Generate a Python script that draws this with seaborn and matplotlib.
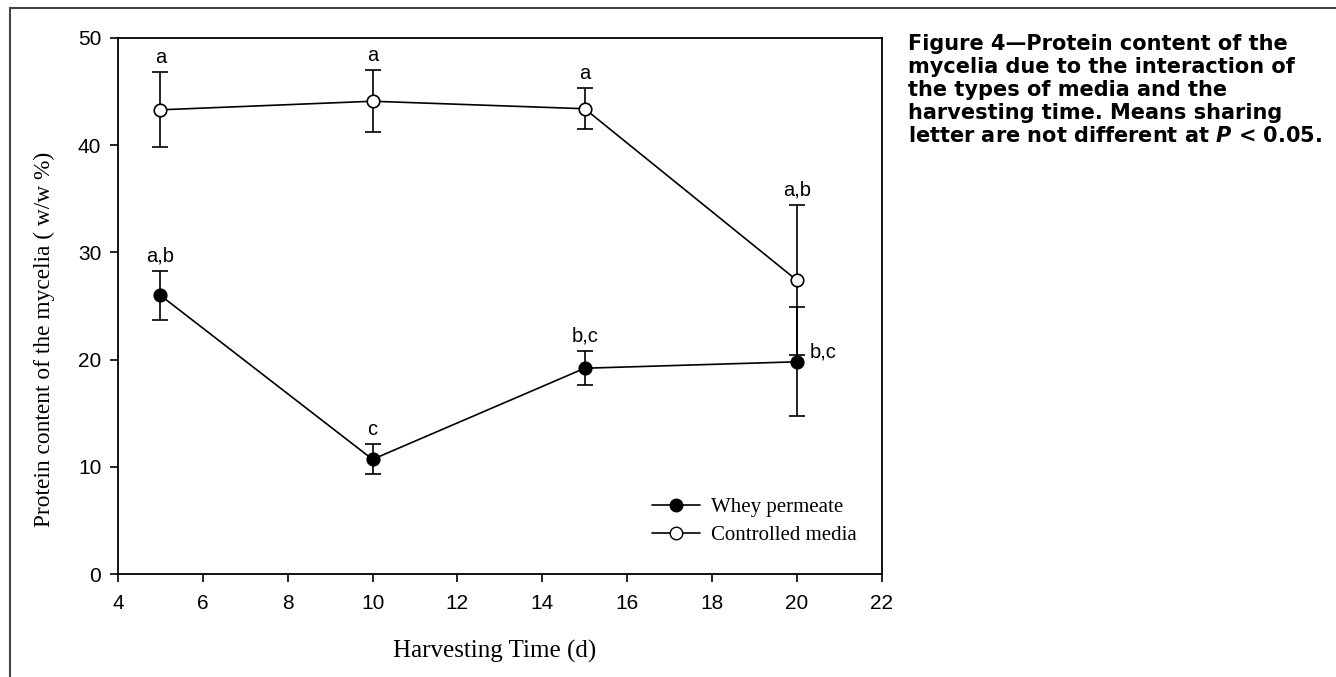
import matplotlib
matplotlib.use("Agg")
import matplotlib.pyplot as plt
from matplotlib.lines import Line2D
import seaborn as sns
import pandas as pd

# Data
days = [5, 10, 15, 20]
whey_mean = [26.0, 10.7, 19.2, 19.8]
whey_err = [2.3, 1.4, 1.6, 5.1]
ctrl_mean = [43.3, 44.1, 43.4, 27.4]
ctrl_err = [3.5, 2.9, 1.9, 7.0]
whey_letters = ["a,b", "c", "b,c", "b,c"]
ctrl_letters = ["a", "a", "a", "a,b"]
series_names = ["Whey permeate", "Controlled media"]
caption = ("Figure 4\u2014Protein content of the\nmycelia due to the interaction of\n"
           "the types of media and the\nharvesting time. Means sharing\n"
           "letter are not different at $\\boldsymbol{P}$ < 0.05.")

sns.set_theme(style="white")
plt.rcParams['font.family'] = ['Liberation Sans', 'DejaVu Sans']
plt.rcParams['mathtext.fontset'] = 'dejavusans'
plt.rcParams['text.color'] = 'black'
plt.rcParams['axes.labelcolor'] = 'black'

fig = plt.figure(figsize=(13.36, 6.77), dpi=100)
ax = fig.add_axes([0.0883, 0.152, 0.660 - 0.0883, 0.9439 - 0.152])

df = pd.DataFrame({
    "day": days * 2,
    "value": whey_mean + ctrl_mean,
    "series": [series_names[0]] * 4 + [series_names[1]] * 4,
})

# error bars
ax.errorbar(days, whey_mean, yerr=whey_err, fmt='none', ecolor='black',
            elinewidth=1.2, capsize=6, capthick=1.2, zorder=2)
ax.errorbar(days, ctrl_mean, yerr=ctrl_err, fmt='none', ecolor='black',
            elinewidth=1.2, capsize=6, capthick=1.2, zorder=2)

sns.lineplot(data=df[df.series == series_names[0]], x="day", y="value", ax=ax,
             color='black', linewidth=1.2, marker='o', markersize=9,
             markerfacecolor='black', markeredgecolor='black', markeredgewidth=1.2,
             zorder=3, legend=False)
sns.lineplot(data=df[df.series == series_names[1]], x="day", y="value", ax=ax,
             color='black', linewidth=1.2, marker='o', markersize=9,
             markerfacecolor='white', markeredgecolor='black', markeredgewidth=1.2,
             zorder=3, legend=False)

# letters
for x, m, e, t in zip(days, ctrl_mean, ctrl_err, ctrl_letters):
    ax.annotate(t, (x, m + e), xytext=(0, 4), textcoords='offset points',
                ha='center', va='bottom', fontsize=14.5, color='black')
for i, (x, m, e, t) in enumerate(zip(days, whey_mean, whey_err, whey_letters)):
    if i == 3:
        ax.annotate(t, (x, m), xytext=(9, 7), textcoords='offset points',
                    ha='left', va='center', fontsize=14.5, color='black')
    else:
        ax.annotate(t, (x, m + e), xytext=(0, 4), textcoords='offset points',
                    ha='center', va='bottom', fontsize=14.5, color='black')

ax.set_xlim(4, 22)
ax.set_ylim(0, 50)
ax.set_xticks(range(4, 23, 2))
ax.set_yticks(range(0, 51, 10))
ax.tick_params(axis='both', which='major', direction='out', length=6, width=1.2,
               labelsize=15, colors='black', bottom=True, left=True)
ax.tick_params(axis='x', pad=8)
ax.tick_params(axis='y', pad=6)
for s in ax.spines.values():
    s.set_color('black')
    s.set_linewidth(1.3)

ax.set_xlabel("Harvesting Time (d)", family=['Liberation Serif'], fontsize=18)
ax.set_ylabel("Protein content of the mycelia ( w/w %)", family=['Liberation Serif'],
              fontsize=16.8)
ax.xaxis.set_label_coords(0.493, -0.122)
ax.yaxis.set_label_coords(-0.083, 0.437)

handles = [
    Line2D([0], [0], color='black', lw=1.2, marker='o', markersize=9,
           markerfacecolor='black', markeredgecolor='black'),
    Line2D([0], [0], color='black', lw=1.2, marker='o', markersize=9,
           markerfacecolor='white', markeredgecolor='black'),
]
leg = ax.legend(handles, series_names, loc='upper left', bbox_to_anchor=(0.699, 0.143),
                frameon=False, prop={'family': 'Liberation Serif', 'size': 15},
                handlelength=2.3, handletextpad=0.55, labelspacing=0.4,
                borderpad=0, borderaxespad=0)
for t in leg.get_texts():
    t.set_color('black')

fig.text(908 / 1336, 1 - 34 / 677, caption, ha='left', va='top', fontsize=15,
         fontweight='bold', family=['DejaVu Sans'], linespacing=1.19, color='black')

# figure frame (top & left)
fig.add_artist(Line2D([10 / 1336, 1.0], [1 - 8 / 677, 1 - 8 / 677], color='#444444', lw=1.5,
                      transform=fig.transFigure))
fig.add_artist(Line2D([10 / 1336, 10 / 1336], [0, 1 - 8 / 677], color='#444444', lw=1.5,
                      transform=fig.transFigure))

fig.savefig("out.png", dpi=100)
